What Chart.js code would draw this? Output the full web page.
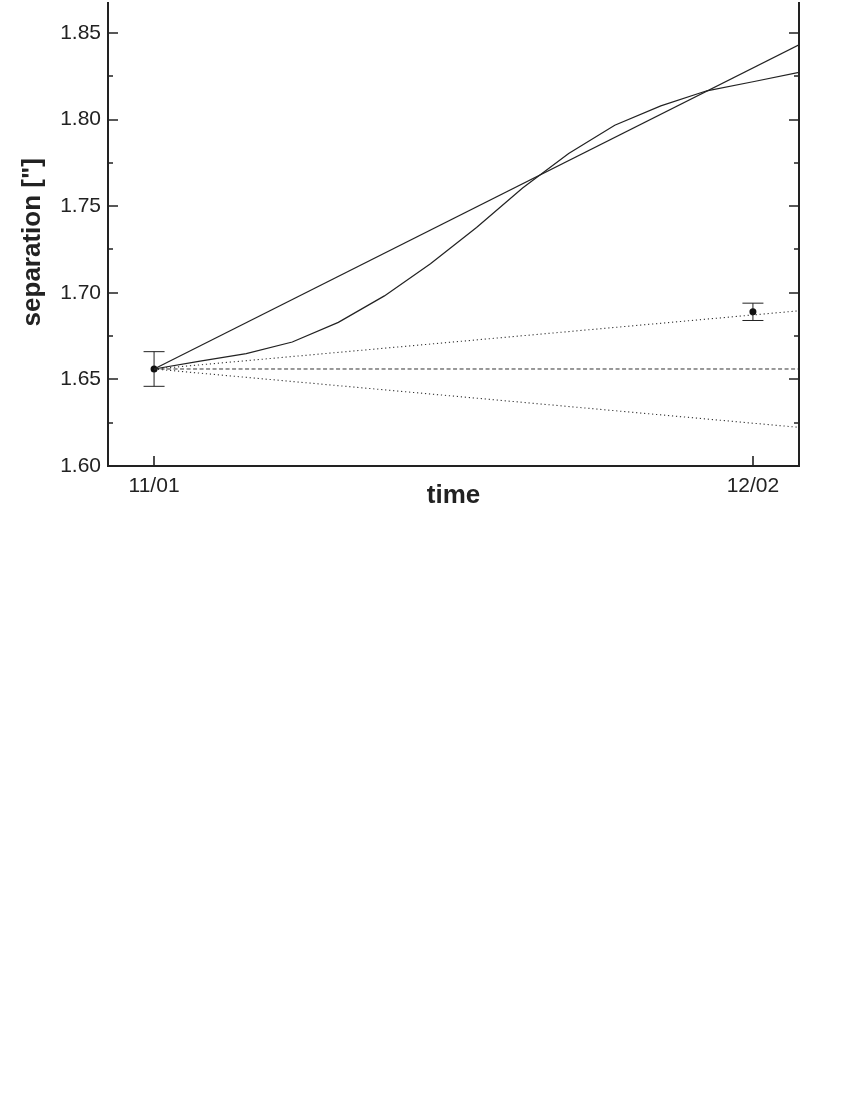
<!DOCTYPE html>
<html><head><meta charset="utf-8">
<script src="https://cdn.jsdelivr.net/npm/chart.js@4/dist/chart.umd.min.js"></script>
<style>html,body{margin:0;padding:0;background:#fff;} #wrap{width:850px;height:1100px;background:#fff;}</style>
</head><body><div id="wrap"><canvas id="c" width="850" height="520"></canvas></div>
<script>
// ---- data (x in months since 11/01) ----
const curveMonths = [0,1,2,3,4,5,6,7,8,9,10,11,12,13,14];
const curveSep = [1.6560,1.6605,1.6649,1.6716,1.6829,1.6982,1.7168,1.7377,1.7605,1.7804,1.7967,1.8079,1.8166,1.8218,1.8272];
const linearMonths = [0,14];
const linearSep = [1.656,1.8431];
const constMonths = [0,14];
const constSep = [1.656,1.656];
const upperMonths = [0,14];
const upperSep = [1.656,1.6896];
const lowerMonths = [0,14];
const lowerSep = [1.656,1.6223];
const obsMonths = [0,13];
const obsSep = [1.656,1.689];
const obsErr = [0.010,0.005];
// ---- ticks ----
const xTickMonths = [0,13];
const xTickLabels = ['11/01','12/02'];
const yMajorTicks = [1.60,1.65,1.70,1.75,1.80,1.85];
const yMinorTicks = [1.625,1.675,1.725,1.775,1.825];

const pts = (xs, ys) => xs.map((v,i)=>({x:v,y:ys[i]}));
const FONT = "'Liberation Sans', Arial, Helvetica, sans-serif";
const INK = '#222';

const framePlugin = {
  id:'frame',
  beforeDatasetsDraw(chart){
    const {ctx, scales:{x,y}} = chart;
    ctx.save();
    ctx.strokeStyle = INK; ctx.lineWidth = 1;
    obsMonths.forEach((m,i)=>{
      const px = x.getPixelForValue(m);
      const t = y.getPixelForValue(obsSep[i]+obsErr[i]);
      const b = y.getPixelForValue(obsSep[i]-obsErr[i]);
      ctx.beginPath();
      ctx.moveTo(px,t); ctx.lineTo(px,b);
      ctx.moveTo(px-10.5,t); ctx.lineTo(px+10.5,t);
      ctx.moveTo(px-10.5,b); ctx.lineTo(px+10.5,b);
      ctx.stroke();
    });
    ctx.restore();
  },
  afterDatasetsDraw(chart){
    const {ctx, chartArea:a, scales:{x,y}} = chart;
    ctx.save();
    ctx.strokeStyle = INK; ctx.lineWidth = 2;
    ctx.beginPath();
    ctx.moveTo(a.left, a.top-2); ctx.lineTo(a.left, a.bottom);
    ctx.lineTo(a.right, a.bottom); ctx.lineTo(a.right, a.top-2);
    ctx.stroke();
    ctx.lineWidth = 1.6;
    ctx.beginPath();
    const tick = (v,len)=>{
      const py = Math.round(y.getPixelForValue(v));
      ctx.moveTo(a.left, py); ctx.lineTo(a.left+len, py);
      ctx.moveTo(a.right, py); ctx.lineTo(a.right-len, py);
    };
    yMajorTicks.forEach(v=>tick(v,10));
    yMinorTicks.forEach(v=>tick(v,5));
    xTickMonths.forEach(m=>{
      const px = Math.round(x.getPixelForValue(m));
      ctx.moveTo(px, a.bottom); ctx.lineTo(px, a.bottom-10);
    });
    ctx.stroke();
    ctx.restore();
  }
};

const lineDs = (data, opts) => Object.assign({
  data, showLine:true, pointRadius:0, borderColor:'#222', borderWidth:1.2,
  fill:false, tension:0
}, opts);

new Chart(document.getElementById('c'), {
  type:'scatter',
  data:{datasets:[
    lineDs(pts(curveMonths, curveSep), {}),
    lineDs(pts(linearMonths, linearSep), {}),
    lineDs(pts(constMonths, constSep), {borderDash:[4,2.5], borderColor:'#333', borderWidth:1}),
    lineDs(pts(upperMonths, upperSep), {borderDash:[1.2,2.8], borderColor:'#333', borderWidth:1.1}),
    lineDs(pts(lowerMonths, lowerSep), {borderDash:[1.2,2.8], borderColor:'#333', borderWidth:1.1}),
    {data: pts(obsMonths, obsSep), showLine:false, pointRadius:3.5, pointBackgroundColor:'#111', pointBorderColor:'#111', pointBorderWidth:0}
  ]},
  options:{
    responsive:false, devicePixelRatio:1, animation:false,
    layout:{padding:{left:0,right:51,top:0,bottom:0}},
    plugins:{legend:{display:false}, tooltip:{enabled:false}},
    scales:{
      x:{
        type:'linear', min:-1, max:14,
        afterBuildTicks:(s)=>{ s.ticks = xTickMonths.map(v=>({value:v})); },
        afterFit:(s)=>{ s.height = 54; s.paddingLeft = 0; s.paddingRight = 0; },
        grid:{display:false, drawTicks:false, tickLength:0},
        border:{display:false},
        ticks:{padding:8, color:INK, font:{family:FONT, size:21}, maxRotation:0, autoSkip:false,
          callback:(v)=>{ const i = xTickMonths.indexOf(v); return i>=0 ? xTickLabels[i] : ''; }},
        title:{display:true, text:'time', color:INK, font:{family:FONT, size:26, weight:'bold'}, padding:{top:0,bottom:9}}
      },
      y:{
        type:'linear', min:1.60, max:1.8667,
        afterBuildTicks:(s)=>{ s.ticks = yMajorTicks.map(v=>({value:v})); },
        afterFit:(s)=>{ s.width = 108; s.paddingTop = 0; s.paddingBottom = 0; },
        grid:{display:false, drawTicks:false, tickLength:0},
        border:{display:false},
        ticks:{padding:7, color:INK, font:{family:FONT, size:21},
          callback:(v)=>Number(v).toFixed(2)},
        title:{display:true, text:'separation ["]  ', color:INK, font:{family:FONT, size:26, weight:'bold'}, padding:{top:17,bottom:0}}
      }
    }
  },
  plugins:[framePlugin]
});
</script>
</body></html>
